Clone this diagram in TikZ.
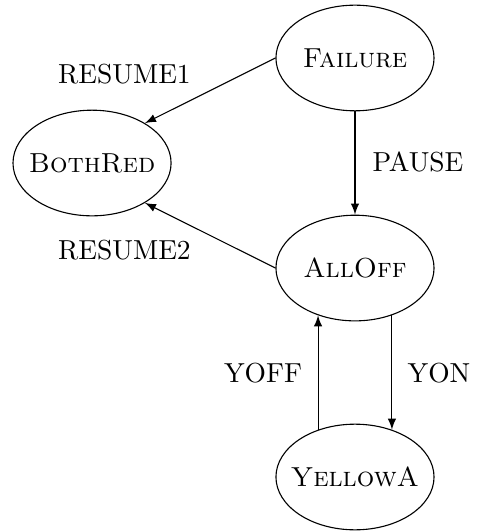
\documentclass[tikz,border=0pt]{standalone}
\usepackage{tikz}
\usetikzlibrary{shapes.geometric}
\tikzset{
  state/.style={draw, ellipse, inner sep=0pt, minimum width=2.02cm, minimum height=1.35cm},
  trans/.style={->, >=latex}
}
\newcommand{\statename}[1]{\makebox[0pt]{\textsc{#1}}}

\begin{document}
\begin{tikzpicture}
  \filldraw[fill=white!0, draw=none] (0cm,0cm) rectangle (6.07cm, -6.785cm);
  \node[state] (failure) at (4.536cm,-0.741cm) {\statename{Failure}};
  \node[state] (bothred) at (1.176cm,-2.083cm) {\statename{BothRed}};
  \node[state] (alloff) at (4.536cm,-3.425cm) {\statename{AllOff}};
  \node[state] (yellowa) at (4.536cm,-6.095cm) {\statename{YellowA}};
  \draw[trans] (failure.west) -- (bothred.37);
  \node (resume1) at (1.59cm,-0.946cm) {RESUME1};
  \draw[trans] (failure.south) -- (alloff.north);
  \node (pause) at (5.341cm,-2.07cm) {PAUSE};
  \draw[trans] (alloff.west) -- (bothred.-37);
  \node (resume2) at (1.59cm,-3.195cm) {RESUME2};
  \draw[trans] (alloff.-52) -- (yellowa.52);
  \node (yon) at (5.61cm,-4.766cm) {YON};
  \draw[trans] (yellowa.128) -- (alloff.-128);
  \node (yoff) at (3.361cm,-4.766cm) {YOFF};
\end{tikzpicture}
\end{document}
